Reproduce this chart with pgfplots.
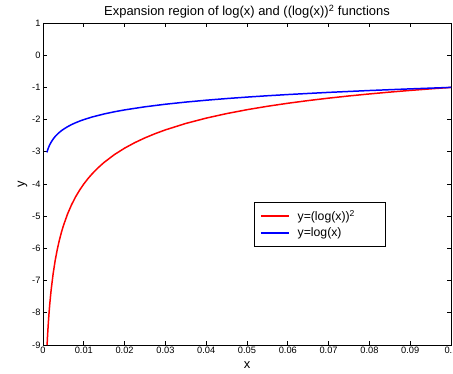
\documentclass[border=0pt]{standalone}
\usepackage{pgfplots}
\pgfplotsset{compat=1.18}
\usepackage{fontspec}
\setmainfont{Liberation Sans}
\begin{document}
\begin{tikzpicture}[x=1bp,y=1bp]
\begin{axis}[
  scale only axis,
  width=408bp, height=322bp,
  xmin=0, xmax=0.1, ymin=-9, ymax=1,
  xtick={0,0.01,0.02,0.03,0.04,0.05,0.06,0.07,0.08,0.09,0.1},
  xticklabels={0,0.01,0.02,0.03,0.04,0.05,0.06,0.07,0.08,0.09,0.1},
  ytick={-9,-8,-7,-6,-5,-4,-3,-2,-1,0,1},
  scaled x ticks=false,
  tick align=inside,
  tick pos=both,
  major tick length=4bp,
  axis line style={line width=0.9pt},
  every tick/.style={line width=0.7pt, black},
  /pgf/number format/assume math mode=true,
  tick label style={font=\fontsize{9.3}{11}\selectfont},
  xticklabel style={yshift=1bp},
  yticklabel style={xshift=1bp},
  title={Expansion region of log(x) and ((log(x))\textsuperscript{2} functions},
  title style={font=\fontsize{13}{15}\selectfont, yshift=-5bp},
  xlabel={x}, ylabel={y},
  label style={font=\fontsize{13}{15}\selectfont},
  xlabel style={yshift=-1bp},
  ylabel style={yshift=-2bp},
  legend style={at={(0.517,0.444)}, anchor=north west,
    font=\fontsize{12.3}{14}\selectfont, inner xsep=6bp, inner ysep=6bp, row sep=2bp},
  legend cell align=left,
  legend image code/.code={\draw[#1] (0bp,0bp) -- (28bp,0bp);},
]
\addlegendimage{red, line width=1.5pt}
\addlegendentry{\makebox[86bp][l]{\hspace*{6bp}y=(log(x))\textsuperscript{2}}}
\addlegendimage{blue, line width=1.5pt}
\addlegendentry{\makebox[86bp][l]{\hspace*{6bp}y=log(x)}}
\addplot[red, line width=1.5pt, forget plot] coordinates {
(0.001,-9) (0.0011,-8.7533) (0.0012,-8.5311) (0.0013,-8.3296) (0.0015,-7.9744) (0.0017,-7.6707)
(0.002,-7.2846) (0.0025,-6.7709) (0.003,-6.3650) (0.0035,-6.0314) (0.004,-5.7499) (0.0045,-5.5075)
(0.005,-5.2946) (0.006,-4.9364) (0.007,-4.6436) (0.008,-4.3970) (0.009,-4.1853) (0.01,-4)
(0.011,-3.8361) (0.012,-3.6895) (0.0135,-3.4958) (0.015,-3.3266) (0.0175,-3.0870)
(0.02,-2.8866) (0.0225,-2.7152) (0.025,-2.5667) (0.0275,-2.4357) (0.03,-2.3192) (0.035,-2.1196)
(0.04,-1.9541) (0.045,-1.8138) (0.05,-1.6926) (0.055,-1.5866) (0.06,-1.4928) (0.065,-1.4092)
(0.07,-1.3338) (0.075,-1.2654) (0.08,-1.2032) (0.085,-1.1462) (0.09,-1.0937) (0.095,-1.0451) (0.1,-1)
};
\addplot[blue, line width=1.5pt, forget plot] coordinates {
(0.0009,-3) (0.001,-3) (0.0011,-2.9586) (0.0012,-2.9208) (0.0013,-2.8861) (0.0015,-2.8239)
(0.0017,-2.7696) (0.002,-2.6990) (0.0025,-2.6021) (0.003,-2.5229) (0.0035,-2.4559) (0.004,-2.3979)
(0.0045,-2.3468) (0.005,-2.3010) (0.006,-2.2218) (0.007,-2.1549) (0.008,-2.0969) (0.009,-2.0458)
(0.01,-2) (0.012,-1.9208) (0.015,-1.8239) (0.0175,-1.7570) (0.02,-1.6990) (0.025,-1.6021)
(0.03,-1.5229) (0.035,-1.4559) (0.04,-1.3979) (0.045,-1.3468) (0.05,-1.3010) (0.055,-1.2596)
(0.06,-1.2218) (0.07,-1.1549) (0.08,-1.0969) (0.09,-1.0458) (0.1,-1)
};
\end{axis}
\pgfresetboundingbox
\path (-43,-28) rectangle (410,345);
\end{tikzpicture}
\end{document}
